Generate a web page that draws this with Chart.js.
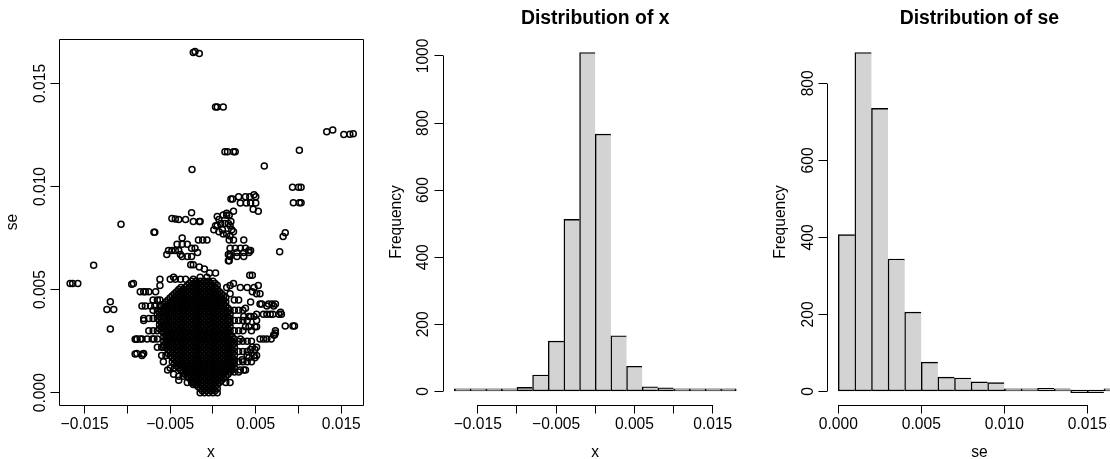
<!DOCTYPE html>
<html>
<head>
<meta charset="utf-8">
<script src="https://cdn.jsdelivr.net/npm/chart.js@4.4.1/dist/chart.umd.min.js"></script>
<style>
  html, body { margin: 0; padding: 0; background: #fff; overflow: hidden; width: 1110px; height: 459px; }
  canvas { position: absolute; top: 0; }
  #scatter { left: 0; }
  #histX { left: 370px; }
  #histSe { left: 740px; }
</style>
</head>
<body>
<canvas id="scatter" width="370" height="459"></canvas>
<canvas id="histX" width="400" height="459"></canvas>
<canvas id="histSe" width="400" height="459"></canvas>
<script>
// ---- data ----

// scattered points around the dense core, [x, se]
const outerPoints = [
  [-0.0023, 0.0165], [-0.0021, 0.01655], [-0.0016, 0.01645],
  [0.0003, 0.01385], [0.0005, 0.01385], [0.0012, 0.01385],
  [0.0133, 0.01266], [0.0140, 0.01274], [0.0153, 0.01252], [0.0160, 0.01253], [0.0164, 0.01256],
  [0.0101, 0.01176], [0.0014, 0.01168], [0.0017, 0.01168], [0.0024, 0.01168], [0.0026, 0.01168],
  [-0.00245, 0.01083], [0.0060, 0.0110],
  [0.0093, 0.00996], [0.0100, 0.00996], [0.0103, 0.00996],
  [0.0094, 0.00921], [0.0101, 0.00921], [0.0103, 0.00921],
  [-0.01075, 0.00817], [-0.01395, 0.00618],
  [-0.0167, 0.00529], [-0.0164, 0.00529], [-0.0158, 0.00529], [-0.0095, 0.00526],
  [-0.0120, 0.00441], [-0.0124, 0.00404], [-0.0116, 0.00404], [-0.0120, 0.00309],
  [-0.0091, 0.00259], [-0.0089, 0.00259], [-0.0091, 0.00188], [-0.0082, 0.00188],
  [-0.0069, 0.00778], [-0.0068, 0.00778],
  [-0.0048, 0.00845], [-0.0044, 0.00843], [-0.0040, 0.0084], [-0.0032, 0.0084], [-0.0023, 0.0083],
  [-0.0016, 0.0083], [-0.0015, 0.0083], [-0.0025, 0.00873],
  [-0.0036, 0.0075], [-0.0042, 0.0072], [-0.0036, 0.0072], [-0.0030, 0.0072], [-0.0025, 0.0070],
  [-0.0021, 0.0070], [-0.0018, 0.0068], [-0.0017, 0.0074], [-0.0012, 0.0074], [-0.0007, 0.0074],
  [-0.0052, 0.0069], [-0.0048, 0.0069], [-0.0044, 0.0069], [-0.0040, 0.0069],
  [-0.0036, 0.0066], [-0.0030, 0.0066], [-0.0025, 0.0066], [-0.0054, 0.0067], [-0.0038, 0.0067],
  [-0.0026, 0.0062], [-0.0023, 0.0062], [-0.0016, 0.0061], [-0.0010, 0.0060], [-0.0004, 0.0058], [0.0003, 0.0058],
  [-0.0050, 0.0055], [-0.0044, 0.0055], [-0.0038, 0.0055], [-0.0062, 0.0052], [-0.0046, 0.0056],
  [-0.0032, 0.0055], [-0.0062, 0.0055], [-0.0023, 0.0055], [-0.0015, 0.0056], [-0.0007, 0.0056],
  [0.0001, 0.0079], [0.0007, 0.0078], [0.0012, 0.0077], [0.0005, 0.0081], [0.0009, 0.0082],
  [0.0014, 0.0082], [0.0018, 0.0082], [0.0016, 0.0086], [0.0019, 0.0086], [0.0021, 0.0083],
  [0.0020, 0.0081], [0.0011, 0.0079], [0.0016, 0.0077], [0.0020, 0.0076], [0.0019, 0.0074],
  [0.0024, 0.0074], [0.0020, 0.0070], [0.0026, 0.0070], [0.0032, 0.0070], [0.0038, 0.0070],
  [0.0036, 0.0074], [0.0018, 0.0067], [0.0020, 0.0066], [0.0019, 0.0064], [0.0028, 0.0066],
  [0.0036, 0.0066], [0.0042, 0.0069], [0.0044, 0.0069], [0.0007, 0.0084], [0.0005, 0.00854],
  [0.0012, 0.00862], [0.0016, 0.0087], [0.0003, 0.0081], [0.0024, 0.0078], [0.0022, 0.0079],
  [0.0020, 0.0067], [0.0028, 0.0068], [0.0036, 0.0068], [0.0042, 0.0068], [0.0018, 0.0064],
  [0.0021, 0.0094], [0.0023, 0.0094], [0.0030, 0.0095], [0.0038, 0.0095], [0.0043, 0.0095],
  [0.0048, 0.0096], [0.0050, 0.0095], [0.0032, 0.0092], [0.0039, 0.0092], [0.0044, 0.0092],
  [0.0050, 0.0092], [0.0047, 0.0089], [0.0053, 0.0088], [0.0024, 0.0088],
  [0.0078, 0.00684], [0.0082, 0.00757], [0.00845, 0.00776],
  [0.00845, 0.00323], [0.00935, 0.00323], [0.00953, 0.00323],
  [0.0073, 0.0029], [0.0072, 0.0028], [0.0059, 0.0026], [0.0063, 0.0026], [0.0068, 0.0026],
  [0.0069, 0.0043], [0.0073, 0.0043], [0.0065, 0.0043], [0.0057, 0.0043],
  [0.0063, 0.0038], [0.0070, 0.0038], [0.0077, 0.0038], [0.0080, 0.0038], [0.0079, 0.0039],
  [0.0051, 0.0035], [0.0042, 0.0037], [0.0036, 0.0037], [0.0048, 0.0037],
  [0.0024, 0.0053], [0.0032, 0.0051], [0.0040, 0.0051], [0.0048, 0.0051], [0.0053, 0.0052],
  [0.0043, 0.0057], [0.0046, 0.0057], [0.0020, 0.0052], [0.0016, 0.0051], [0.0020, 0.0048],
  [0.0046, 0.0049], [0.0051, 0.0048], [0.0055, 0.0048],
  [0.0044, 0.0044], [0.0055, 0.0043], [0.0063, 0.0042], [0.0071, 0.0042], [0.0038, 0.0041],
  [0.0044, 0.0037], [0.0051, 0.0038], [0.0059, 0.0038], [0.0067, 0.0038],
  [0.0038, 0.0032], [0.0042, 0.0032], [0.0051, 0.0032], [0.0049, 0.0032],
  [0.0032, 0.0026], [0.0055, 0.0026], [0.0071, 0.0028], [0.0073, 0.0030],
  [0.0040, 0.0018], [0.0048, 0.0018], [0.0044, 0.0021], [0.0049, 0.0021], [0.0051, 0.0018],
  [0.0046, 0.0022], [0.0051, 0.0022], [0.0042, 0.0017], [0.0049, 0.0017],
  [0.0032, 0.0011], [0.0036, 0.0011], [0.0038, 0.0011], [0.0034, 0.0016], [0.0020, 0.0015], [0.0012, 0.0009],
  [-0.0093, 0.0053], [-0.0085, 0.0049], [-0.0081, 0.0049], [-0.0079, 0.0049], [-0.0075, 0.0049], [-0.0067, 0.0049],
  [-0.0083, 0.0042], [-0.0079, 0.0042], [-0.0073, 0.0042], [-0.0068, 0.0042], [-0.0062, 0.0042],
  [-0.0081, 0.0036], [-0.0075, 0.0036], [-0.0081, 0.0035], [-0.0070, 0.0036],
  [-0.0089, 0.0026], [-0.0085, 0.0026], [-0.0083, 0.0026], [-0.0077, 0.0026], [-0.0071, 0.0026],
  [-0.0065, 0.0026], [-0.0069, 0.0026],
  [-0.0089, 0.0019], [-0.0083, 0.0018], [-0.0081, 0.0019], [-0.0058, 0.0022],
  [-0.0023, 0.0004], [-0.0062, 0.0045], [-0.0060, 0.0032], [-0.0058, 0.0015], [-0.0053, 0.0011],
  [-0.0046, 0.0009], [-0.0040, 0.0006]
];

// overlapping circles hugging the edge of the core, [x, se]
const edgePoints = [
  [0.0025, 0.0045], [0.003, 0.0045], [0.0025, 0.004], [0.003, 0.004], [0.0035, 0.004],
  [0.0025, 0.0035], [0.003, 0.0035], [0.0035, 0.0035], [0.004, 0.0035],
  [0.0025, 0.003], [0.003, 0.003], [0.0035, 0.003], [0.0045, 0.003],
  [0.003, 0.0025], [0.0035, 0.0025], [0.004, 0.0025], [0.0045, 0.0025],
  [0.003, 0.002], [0.0035, 0.002], [0.004, 0.002],
  [0.003, 0.0015], [0.0035, 0.0015], [0.004, 0.0015], [0.0045, 0.0015],
  [0.0025, 0.001], [0.003, 0.001], [0.0015, 0.0005], [0.002, 0.0005],
  [-0.0065, 0.0045], [-0.007, 0.0045], [-0.0065, 0.004], [-0.007, 0.004],
  [-0.0065, 0.003], [-0.007, 0.003], [-0.0075, 0.003],
  [-0.006, 0.0022], [-0.0065, 0.0022], [-0.0055, 0.0018], [-0.006, 0.0018],
  [-0.005, 0.0012], [-0.0045, 0.0012], [-0.0035, 0.0008], [-0.004, 0.0008],
  [-0.0025, 0.0005], [-0.003, 0.0005]
];

// the solid black core, one row of x values per se level
const coreSe = [0, 0.0002, 0.0004, 0.0006, 0.0008, 0.001, 0.0012, 0.0014, 0.0016, 0.0018,
  0.002, 0.0022, 0.0024, 0.0026, 0.0028, 0.003, 0.0032, 0.0034, 0.0036, 0.0038,
  0.004, 0.0042, 0.0044, 0.0046, 0.0048, 0.005, 0.0052, 0.0054];
const coreX = [
  [-0.0015, -0.001, -0.0005, 0, 0.0005],
  [-0.0015, -0.001, -0.0005, 0, 0.0005],
  [-0.002, -0.0015, -0.001, -0.0005, 0, 0.0005],
  [-0.0025, -0.002, -0.0015, -0.001, -0.0005, 0, 0.0005, 0.001],
  [-0.003, -0.0025, -0.002, -0.0015, -0.001, -0.0005, 0, 0.0005, 0.001, 0.0015],
  [-0.0035, -0.003, -0.0025, -0.002, -0.0015, -0.001, -0.0005, 0, 0.0005, 0.001, 0.0015, 0.002],
  [-0.004, -0.0035, -0.003, -0.0025, -0.002, -0.0015, -0.001, -0.0005, 0, 0.0005, 0.001, 0.0015, 0.002, 0.0025],
  [-0.0045, -0.004, -0.0035, -0.003, -0.0025, -0.002, -0.0015, -0.001, -0.0005, 0, 0.0005, 0.001, 0.0015, 0.002, 0.0025],
  [-0.0045, -0.004, -0.0035, -0.003, -0.0025, -0.002, -0.0015, -0.001, -0.0005, 0, 0.0005, 0.001, 0.0015, 0.002, 0.0025],
  [-0.005, -0.0045, -0.004, -0.0035, -0.003, -0.0025, -0.002, -0.0015, -0.001, -0.0005, 0, 0.0005, 0.001, 0.0015, 0.002, 0.0025],
  [-0.005, -0.0045, -0.004, -0.0035, -0.003, -0.0025, -0.002, -0.0015, -0.001, -0.0005, 0, 0.0005, 0.001, 0.0015, 0.002, 0.0025],
  [-0.0055, -0.005, -0.0045, -0.004, -0.0035, -0.003, -0.0025, -0.002, -0.0015, -0.001, -0.0005, 0, 0.0005, 0.001, 0.0015, 0.002, 0.0025],
  [-0.0055, -0.005, -0.0045, -0.004, -0.0035, -0.003, -0.0025, -0.002, -0.0015, -0.001, -0.0005, 0, 0.0005, 0.001, 0.0015, 0.002, 0.0025],
  [-0.0055, -0.005, -0.0045, -0.004, -0.0035, -0.003, -0.0025, -0.002, -0.0015, -0.001, -0.0005, 0, 0.0005, 0.001, 0.0015, 0.002, 0.0025],
  [-0.0055, -0.005, -0.0045, -0.004, -0.0035, -0.003, -0.0025, -0.002, -0.0015, -0.001, -0.0005, 0, 0.0005, 0.001, 0.0015, 0.002],
  [-0.006, -0.0055, -0.005, -0.0045, -0.004, -0.0035, -0.003, -0.0025, -0.002, -0.0015, -0.001, -0.0005, 0, 0.0005, 0.001, 0.0015, 0.002],
  [-0.006, -0.0055, -0.005, -0.0045, -0.004, -0.0035, -0.003, -0.0025, -0.002, -0.0015, -0.001, -0.0005, 0, 0.0005, 0.001, 0.0015, 0.002],
  [-0.006, -0.0055, -0.005, -0.0045, -0.004, -0.0035, -0.003, -0.0025, -0.002, -0.0015, -0.001, -0.0005, 0, 0.0005, 0.001, 0.0015, 0.002],
  [-0.0065, -0.006, -0.0055, -0.005, -0.0045, -0.004, -0.0035, -0.003, -0.0025, -0.002, -0.0015, -0.001, -0.0005, 0, 0.0005, 0.001, 0.0015, 0.002],
  [-0.0065, -0.006, -0.0055, -0.005, -0.0045, -0.004, -0.0035, -0.003, -0.0025, -0.002, -0.0015, -0.001, -0.0005, 0, 0.0005, 0.001, 0.0015, 0.002],
  [-0.006, -0.0055, -0.005, -0.0045, -0.004, -0.0035, -0.003, -0.0025, -0.002, -0.0015, -0.001, -0.0005, 0, 0.0005, 0.001, 0.0015, 0.002],
  [-0.006, -0.0055, -0.005, -0.0045, -0.004, -0.0035, -0.003, -0.0025, -0.002, -0.0015, -0.001, -0.0005, 0, 0.0005, 0.001, 0.0015],
  [-0.0055, -0.005, -0.0045, -0.004, -0.0035, -0.003, -0.0025, -0.002, -0.0015, -0.001, -0.0005, 0, 0.0005, 0.001, 0.0015],
  [-0.005, -0.0045, -0.004, -0.0035, -0.003, -0.0025, -0.002, -0.0015, -0.001, -0.0005, 0, 0.0005, 0.001, 0.0015],
  [-0.0045, -0.004, -0.0035, -0.003, -0.0025, -0.002, -0.0015, -0.001, -0.0005, 0, 0.0005, 0.001],
  [-0.004, -0.0035, -0.003, -0.0025, -0.002, -0.0015, -0.001, -0.0005, 0, 0.0005],
  [-0.003, -0.0025, -0.002, -0.0015, -0.001, -0.0005, 0, 0.0005],
  [-0.0025, -0.002, -0.0015, -0.001, -0.0005, 0]
];

// a second, staggered set of core rows in between the first
const coreSe2 = [0.0001, 0.0003, 0.0005, 0.0007, 0.0009, 0.0011, 0.0013, 0.0015, 0.0017, 0.0019,
  0.0021, 0.0023, 0.0025, 0.0027, 0.0029, 0.0031, 0.0033, 0.0035, 0.0037, 0.0039,
  0.0041, 0.0043, 0.0045, 0.0047, 0.0049, 0.0051, 0.0053];
const coreX2 = [
  [-0.00125, -0.00075, -0.00025, 0.00025],
  [-0.00175, -0.00125, -0.00075, -0.00025, 0.00025],
  [-0.00225, -0.00175, -0.00125, -0.00075, -0.00025, 0.00025, 0.00075],
  [-0.00275, -0.00225, -0.00175, -0.00125, -0.00075, -0.00025, 0.00025, 0.00075, 0.00125],
  [-0.00325, -0.00275, -0.00225, -0.00175, -0.00125, -0.00075, -0.00025, 0.00025, 0.00075, 0.00125, 0.00175],
  [-0.00375, -0.00325, -0.00275, -0.00225, -0.00175, -0.00125, -0.00075, -0.00025, 0.00025, 0.00075, 0.00125, 0.00175, 0.00225],
  [-0.00425, -0.00375, -0.00325, -0.00275, -0.00225, -0.00175, -0.00125, -0.00075, -0.00025, 0.00025, 0.00075, 0.00125, 0.00175, 0.00225],
  [-0.00475, -0.00425, -0.00375, -0.00325, -0.00275, -0.00225, -0.00175, -0.00125, -0.00075, -0.00025, 0.00025, 0.00075, 0.00125, 0.00175, 0.00225],
  [-0.00475, -0.00425, -0.00375, -0.00325, -0.00275, -0.00225, -0.00175, -0.00125, -0.00075, -0.00025, 0.00025, 0.00075, 0.00125, 0.00175, 0.00225],
  [-0.00525, -0.00475, -0.00425, -0.00375, -0.00325, -0.00275, -0.00225, -0.00175, -0.00125, -0.00075, -0.00025, 0.00025, 0.00075, 0.00125, 0.00175, 0.00225],
  [-0.00525, -0.00475, -0.00425, -0.00375, -0.00325, -0.00275, -0.00225, -0.00175, -0.00125, -0.00075, -0.00025, 0.00025, 0.00075, 0.00125, 0.00175, 0.00225],
  [-0.00575, -0.00525, -0.00475, -0.00425, -0.00375, -0.00325, -0.00275, -0.00225, -0.00175, -0.00125, -0.00075, -0.00025, 0.00025, 0.00075, 0.00125, 0.00175, 0.00225],
  [-0.00575, -0.00525, -0.00475, -0.00425, -0.00375, -0.00325, -0.00275, -0.00225, -0.00175, -0.00125, -0.00075, -0.00025, 0.00025, 0.00075, 0.00125, 0.00175, 0.00225],
  [-0.00575, -0.00525, -0.00475, -0.00425, -0.00375, -0.00325, -0.00275, -0.00225, -0.00175, -0.00125, -0.00075, -0.00025, 0.00025, 0.00075, 0.00125, 0.00175, 0.00225],
  [-0.00575, -0.00525, -0.00475, -0.00425, -0.00375, -0.00325, -0.00275, -0.00225, -0.00175, -0.00125, -0.00075, -0.00025, 0.00025, 0.00075, 0.00125, 0.00175],
  [-0.00625, -0.00575, -0.00525, -0.00475, -0.00425, -0.00375, -0.00325, -0.00275, -0.00225, -0.00175, -0.00125, -0.00075, -0.00025, 0.00025, 0.00075, 0.00125, 0.00175],
  [-0.00625, -0.00575, -0.00525, -0.00475, -0.00425, -0.00375, -0.00325, -0.00275, -0.00225, -0.00175, -0.00125, -0.00075, -0.00025, 0.00025, 0.00075, 0.00125, 0.00175],
  [-0.00625, -0.00575, -0.00525, -0.00475, -0.00425, -0.00375, -0.00325, -0.00275, -0.00225, -0.00175, -0.00125, -0.00075, -0.00025, 0.00025, 0.00075, 0.00125, 0.00175],
  [-0.00625, -0.00575, -0.00525, -0.00475, -0.00425, -0.00375, -0.00325, -0.00275, -0.00225, -0.00175, -0.00125, -0.00075, -0.00025, 0.00025, 0.00075, 0.00125, 0.00175],
  [-0.00625, -0.00575, -0.00525, -0.00475, -0.00425, -0.00375, -0.00325, -0.00275, -0.00225, -0.00175, -0.00125, -0.00075, -0.00025, 0.00025, 0.00075, 0.00125, 0.00175],
  [-0.00575, -0.00525, -0.00475, -0.00425, -0.00375, -0.00325, -0.00275, -0.00225, -0.00175, -0.00125, -0.00075, -0.00025, 0.00025, 0.00075, 0.00125, 0.00175],
  [-0.00575, -0.00525, -0.00475, -0.00425, -0.00375, -0.00325, -0.00275, -0.00225, -0.00175, -0.00125, -0.00075, -0.00025, 0.00025, 0.00075, 0.00125],
  [-0.00525, -0.00475, -0.00425, -0.00375, -0.00325, -0.00275, -0.00225, -0.00175, -0.00125, -0.00075, -0.00025, 0.00025, 0.00075, 0.00125],
  [-0.00475, -0.00425, -0.00375, -0.00325, -0.00275, -0.00225, -0.00175, -0.00125, -0.00075, -0.00025, 0.00025, 0.00075, 0.00125],
  [-0.00425, -0.00375, -0.00325, -0.00275, -0.00225, -0.00175, -0.00125, -0.00075, -0.00025, 0.00025, 0.00075],
  [-0.00375, -0.00325, -0.00275, -0.00225, -0.00175, -0.00125, -0.00075, -0.00025, 0.00025],
  [-0.00275, -0.00225, -0.00175, -0.00125, -0.00075, -0.00025, 0.00025]
];

// histogram of x: bin mids (width 0.002) and counts
const xBinMids = [-0.017, -0.015, -0.013, -0.011, -0.009, -0.007, -0.005, -0.003, -0.001,
  0.001, 0.003, 0.005, 0.007, 0.009, 0.011, 0.013, 0.015, 0.017];
const xCounts = [3, 1, 5, 3, 12, 49, 150, 513, 1010, 767, 166, 75, 14, 11, 4, 3, 5, 2];

// histogram of se: bin mids (width 0.001) and counts
const seBinMids = [0.0005, 0.0015, 0.0025, 0.0035, 0.0045, 0.0055, 0.0065, 0.0075, 0.0085,
  0.0095, 0.0105, 0.0115, 0.0125, 0.0135, 0.0145, 0.0155, 0.0165];
const seCounts = [407, 880, 735, 344, 206, 76, 37, 35, 25, 23, 2, 6, 8, 4, 0, 0, 3];

// ticks
const xTicks = [-0.015, -0.01, -0.005, 0, 0.005, 0.01, 0.015];
const xTickLabels = ['\u22120.015', '', '\u22120.005', '', '0.005', '', '0.015'];
const seTicks = [0, 0.005, 0.01, 0.015];
const seTickLabels = ['0.000', '0.005', '0.010', '0.015'];
const freqXTicks = [0, 200, 400, 600, 800, 1000];
const freqSeTicks = [0, 200, 400, 600, 800];

// ---- chart setup ----
Chart.defaults.font.family = '"Liberation Sans", Arial, Helvetica, sans-serif';
Chart.defaults.font.size = 15.6;
Chart.defaults.color = '#000';

const TICK_LEN = 8.5;
const X_AXIS_H = 54;

// R-style axis lines (only between first and last tick) or a full box
const rAxes = {
  id: 'rAxes',
  afterDraw(chart, args, opts) {
    const ctx = chart.ctx;
    const a = chart.chartArea;
    const al = p => Math.round(p - 0.5) + 0.5;
    ctx.save();
    ctx.strokeStyle = '#000';
    ctx.lineWidth = 1;
    ctx.beginPath();
    if (opts.box) {
      ctx.rect(al(a.left), al(a.top), Math.round(a.right - a.left), Math.round(a.bottom - a.top));
    } else {
      const xs = chart.scales.x, ys = chart.scales.y;
      const xt = xs.ticks, yt = ys.ticks;
      const by = al(a.bottom);
      ctx.moveTo(al(xs.getPixelForValue(xt[0].value)), by);
      ctx.lineTo(al(xs.getPixelForValue(xt[xt.length - 1].value)), by);
      const lx = al(a.left);
      ctx.moveTo(lx, al(ys.getPixelForValue(yt[0].value)));
      ctx.lineTo(lx, al(ys.getPixelForValue(yt[yt.length - 1].value)));
    }
    ctx.stroke();
    ctx.restore();
  }
};

function xAxis(min, max, ticks, labels, title) {
  return {
    type: 'linear', min: min, max: max, offset: false,
    afterBuildTicks: s => { s.ticks = ticks.map(v => ({ value: v })); },
    afterFit: s => { s.height = X_AXIS_H; },
    grid: { drawOnChartArea: false, drawTicks: true, tickLength: TICK_LEN, color: '#000', lineWidth: 1, offset: false },
    border: { display: false },
    ticks: { autoSkip: false, minRotation: 0, maxRotation: 0, padding: 2.1,
      callback: (v, i) => labels[i] },
    title: { display: true, text: title, padding: { top: 0, bottom: -3.5 } }
  };
}

function yAxis(min, max, ticks, labels, title, width, labelPad, titlePad) {
  return {
    type: 'linear', min: min, max: max,
    afterBuildTicks: s => { s.ticks = ticks.map(v => ({ value: v })); },
    afterFit: s => { s.width = width; },
    grid: { drawOnChartArea: false, drawTicks: true, tickLength: TICK_LEN, color: '#000', lineWidth: 1 },
    border: { display: false },
    ticks: { autoSkip: false, minRotation: 90, maxRotation: 90, crossAlign: 'center', padding: labelPad,
      callback: (v, i) => labels[i] },
    title: { display: true, text: title, padding: { top: titlePad, bottom: 0 } }
  };
}

const baseOpts = {
  responsive: false,
  animation: false,
  events: []
};

// scatter of se against x
const scatterPoints = outerPoints.concat(edgePoints).map(p => ({ x: p[0], y: p[1] }));
coreSe.forEach((se, r) => {
  coreX[r].forEach(x => scatterPoints.push({ x: x, y: se }));
});
coreSe2.forEach((se, r) => {
  coreX2[r].forEach(x => scatterPoints.push({ x: x, y: se }));
});

new Chart(document.getElementById('scatter'), {
  type: 'scatter',
  data: {
    datasets: [{
      data: scatterPoints,
      showLine: false,
      pointRadius: 3,
      pointBorderWidth: 1.5,
      pointBorderColor: '#000',
      pointBackgroundColor: 'rgba(0,0,0,0)'
    }]
  },
  options: Object.assign({}, baseOpts, {
    layout: { padding: { left: 0, right: 7, top: 39, bottom: 0 } },
    plugins: { legend: { display: false }, tooltip: { enabled: false }, rAxes: { box: true } },
    scales: {
      x: xAxis(-0.018, 0.01754, xTicks, xTickLabels, 'x'),
      y: yAxis(-0.000597, 0.017154, seTicks, seTickLabels, 'se', 59, -9.7, 2.9)
    }
  }),
  plugins: [rAxes]
});

function histDataset(mids, counts) {
  return {
    data: mids.map((m, i) => ({ x: m, y: counts[i] })),
    backgroundColor: '#d3d3d3',
    borderColor: '#000',
    borderWidth: c => ({ top: 1.4, bottom: 1.4, left: 1.4, right: c.dataIndex === counts.length - 1 ? 1.4 : 0 }),
    borderSkipped: false,
    minBarLength: 2.6,
    categoryPercentage: 1,
    barPercentage: 1
  };
}

function histTitle(text) {
  return { display: true, text: text, fullSize: false, color: '#000',
    font: { size: 19.4, weight: 'bold' }, padding: { top: 7.4, bottom: 8.3 } };
}

new Chart(document.getElementById('histX'), {
  type: 'bar',
  data: { datasets: [histDataset(xBinMids, xCounts)] },
  options: Object.assign({}, baseOpts, {
    layout: { padding: { left: 0, right: 22.5, top: 0, bottom: 0 } },
    plugins: { legend: { display: false }, tooltip: { enabled: false }, rAxes: { box: false },
      title: histTitle('Distribution of x') },
    scales: {
      x: xAxis(-0.01944, 0.01944, xTicks, xTickLabels, 'x'),
      y: yAxis(-40.4, 1050.4, freqXTicks, freqXTicks.map(String), 'Frequency', 73, -6.15, 16.9)
    }
  }),
  plugins: [rAxes]
});

new Chart(document.getElementById('histSe'), {
  type: 'bar',
  data: { datasets: [histDataset(seBinMids, seCounts)] },
  options: Object.assign({}, baseOpts, {
    layout: { padding: { left: 0, right: 8.2, top: 0, bottom: 0 } },
    plugins: { legend: { display: false }, tooltip: { enabled: false }, rAxes: { box: false },
      title: histTitle('Distribution of se') },
    scales: {
      x: xAxis(-0.00068, 0.01768, seTicks, seTickLabels, 'se'),
      y: yAxis(-35.2, 915.2, freqSeTicks, freqSeTicks.map(String), 'Frequency', 87, -3.5, 30.9)
    }
  }),
  plugins: [rAxes]
});
</script>
</body>
</html>
